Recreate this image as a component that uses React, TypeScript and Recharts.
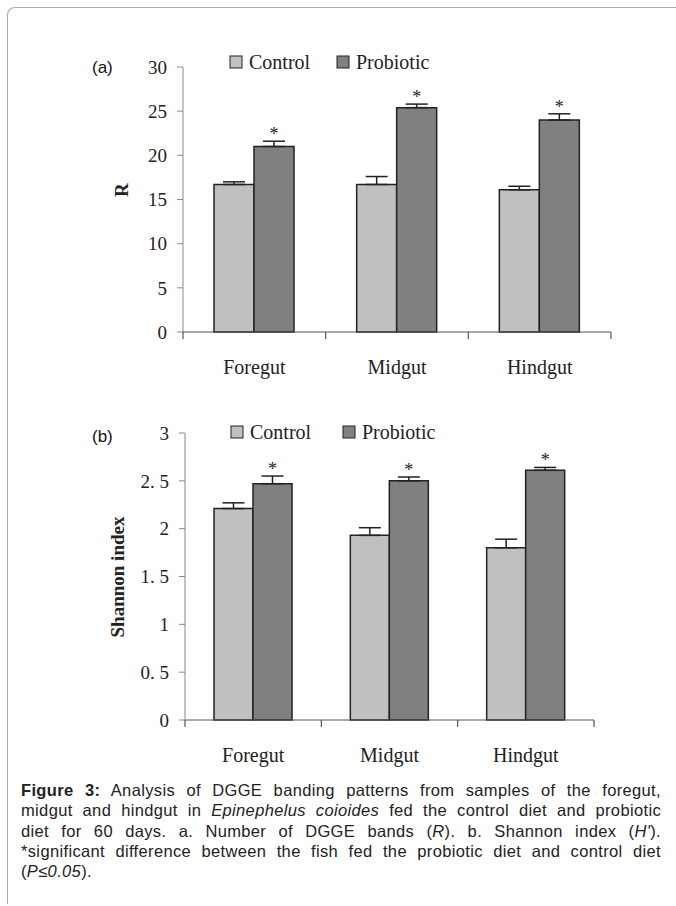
import { BarChart, Bar, XAxis, YAxis, ErrorBar, LabelList } from 'recharts';

const categories = ['Foregut', 'Midgut', 'Hindgut'];
const seriesNames = ['Control', 'Probiotic'];
const seriesColors = ['#C0C0C0', '#808080'];

// (a) number of DGGE bands
const bandsControl = [16.7, 16.7, 16.1];
const bandsControlErr = [0.3, 0.9, 0.4];
const bandsProbiotic = [21.0, 25.4, 24.0];
const bandsProbioticErr = [0.6, 0.4, 0.7];
const bandsTicks = [0, 5, 10, 15, 20, 25, 30];

// (b) Shannon index
const shannonControl = [2.21, 1.93, 1.8];
const shannonControlErr = [0.06, 0.08, 0.09];
const shannonProbiotic = [2.47, 2.5, 2.61];
const shannonProbioticErr = [0.08, 0.04, 0.03];
const shannonTicks = [0, 0.5, 1, 1.5, 2, 2.5, 3];
const shannonTickLabels = ['0', '0. 5', '1', '1. 5', '2', '2. 5', '3'];

const significant = [true, true, true];

const SERIF = '"Liberation Serif", "Times New Roman", serif';
const SANS = '"Liberation Sans", Arial, sans-serif';

const buildRows = (ctrl: number[], ctrlErr: number[], pro: number[], proErr: number[]) =>
  categories.map((name, i) => ({
    name,
    control: ctrl[i],
    controlErr: [0, ctrlErr[i]],
    probiotic: pro[i],
    probioticErr: [0, proErr[i]],
  }));

const bandsRows = buildRows(bandsControl, bandsControlErr, bandsProbiotic, bandsProbioticErr);
const shannonRows = buildRows(shannonControl, shannonControlErr, shannonProbiotic, shannonProbioticErr);

// category ticks sit on the boundaries between groups, label in the middle
const makeCategoryTick = (band: number) => (props: any) => {
  const { x, y, payload, index } = props;
  return (
    <g>
      <line x1={x - band / 2} y1={y} x2={x - band / 2} y2={y + 7} stroke="#555" strokeWidth={1.2} />
      {index === categories.length - 1 && (
        <line x1={x + band / 2} y1={y} x2={x + band / 2} y2={y + 7} stroke="#555" strokeWidth={1.2} />
      )}
      <text x={x} y={y + 35} textAnchor="middle" dominantBaseline="central" fontFamily={SERIF} fontSize={20} fill="#222">
        {payload.value}
      </text>
    </g>
  );
};

const makeStar = (errs: number[]) => (props: any) => {
  const { x, y, width, height, value, index } = props;
  if (!significant[index] || !value) return null;
  const errPx = (errs[index] * height) / value;
  return (
    <text x={x + width / 2} y={y - errPx - 1} textAnchor="middle" fontFamily={SERIF} fontSize={18} fill="#222">
      *
    </text>
  );
};

const LegendItems = ({ y, xs }: { y: number; xs: number[] }) => (
  <g>
    {seriesNames.map((n, i) => (
      <g key={n}>
        <rect x={xs[i]} y={y - 6} width={12} height={12} fill={seriesColors[i]} stroke="#222" strokeWidth={1} />
        <text x={xs[i] + 19} y={y} dominantBaseline="central" fontFamily={SERIF} fontSize={20} fill="#222">
          {n}
        </text>
      </g>
    ))}
  </g>
);

const barStyle = { stroke: '#222', strokeWidth: 1.5 };
const lineStyle = { textAlign: 'justify' as const, textAlignLast: 'justify' as const, whiteSpace: 'nowrap' as const };

export default function App() {
  return (
    <div style={{ position: 'absolute', left: 0, top: 0, width: 676, height: 906, background: '#fff', overflow: 'hidden' }}>
      <div
        style={{
          position: 'absolute',
          left: 7,
          top: 7,
          width: 700,
          height: 896,
          borderLeft: '1px solid #aaa',
          borderTop: '1px solid #aaa',
          borderTopLeftRadius: 8,
        }}
      />

      {/* (a) */}
      <div style={{ position: 'absolute', left: 0, top: 0 }}>
        <BarChart width={676} height={385} data={bandsRows} margin={{ top: 67, right: 65, bottom: 8, left: 123 }} barGap={0} barSize={40}>
          <XAxis
            dataKey="name"
            height={45}
            stroke="#555"
            tickLine={false}
            tickSize={0}
            tickMargin={0}
            interval={0}
            tick={makeCategoryTick(428 / 3)}
          />
          <YAxis
            type="number"
            width={60}
            domain={[0, 30]}
            ticks={bandsTicks}
            interval={0}
            stroke="#888"
            tickSize={6}
            tickMargin={10}
            tick={{ fontFamily: SERIF, fontSize: 19, fill: '#222' }}
          />
          <Bar dataKey="control" name={seriesNames[0]} fill={seriesColors[0]} {...barStyle} isAnimationActive={false}>
            <ErrorBar dataKey="controlErr" direction="y" width={11} stroke="#222" strokeWidth={1.5} />
          </Bar>
          <Bar dataKey="probiotic" name={seriesNames[1]} fill={seriesColors[1]} {...barStyle} isAnimationActive={false}>
            <ErrorBar dataKey="probioticErr" direction="y" width={11} stroke="#222" strokeWidth={1.5} />
            <LabelList dataKey="probiotic" content={makeStar(bandsProbioticErr)} />
          </Bar>
          <LegendItems y={62} xs={[230, 337]} />
          <text x={92} y={67} dominantBaseline="central" fontFamily={SANS} fontSize={17} fill="#111">
            (a)
          </text>
          <text
            x={121}
            y={190}
            transform="rotate(-90 121 190)"
            textAnchor="middle"
            dominantBaseline="central"
            fontFamily={SERIF}
            fontWeight="bold"
            fontSize={19}
            fill="#222"
          >
            R
          </text>
        </BarChart>
      </div>

      {/* (b) */}
      <div style={{ position: 'absolute', left: 0, top: 400 }}>
        <BarChart width={676} height={370} data={shannonRows} margin={{ top: 33, right: 82, bottom: 5, left: 125 }} barGap={0} barSize={39}>
          <XAxis
            dataKey="name"
            height={45}
            stroke="#555"
            tickLine={false}
            tickSize={0}
            tickMargin={0}
            interval={0}
            tick={makeCategoryTick(409 / 3)}
          />
          <YAxis
            type="number"
            width={60}
            domain={[0, 3]}
            ticks={shannonTicks}
            interval={0}
            stroke="#888"
            tickSize={6}
            tickMargin={10}
            tickFormatter={(v: number) => shannonTickLabels[shannonTicks.indexOf(v)]}
            tick={{ fontFamily: SERIF, fontSize: 19, fill: '#222' }}
          />
          <Bar dataKey="control" name={seriesNames[0]} fill={seriesColors[0]} {...barStyle} isAnimationActive={false}>
            <ErrorBar dataKey="controlErr" direction="y" width={11} stroke="#222" strokeWidth={1.5} />
          </Bar>
          <Bar dataKey="probiotic" name={seriesNames[1]} fill={seriesColors[1]} {...barStyle} isAnimationActive={false}>
            <ErrorBar dataKey="probioticErr" direction="y" width={11} stroke="#222" strokeWidth={1.5} />
            <LabelList dataKey="probiotic" content={makeStar(shannonProbioticErr)} />
          </Bar>
          <LegendItems y={32} xs={[231, 343]} />
          <text x={92} y={36} dominantBaseline="central" fontFamily={SANS} fontSize={17} fill="#111">
            (b)
          </text>
          <text
            x={117}
            y={177}
            transform="rotate(-90 117 177)"
            textAnchor="middle"
            dominantBaseline="central"
            fontFamily={SERIF}
            fontWeight="bold"
            fontSize={19}
            fill="#222"
          >
            Shannon index
          </text>
        </BarChart>
      </div>

      {/* caption */}
      <div
        style={{
          position: 'absolute',
          left: 21,
          top: 780,
          width: 640,
          fontFamily: SANS,
          fontSize: 16.5,
          letterSpacing: 0.35,
          lineHeight: '20.3px',
          color: '#222',
        }}
      >
        <div style={lineStyle}>
          <b>Figure 3:</b> Analysis of DGGE banding patterns from samples of the foregut,
        </div>
        <div style={lineStyle}>
          midgut and hindgut in <i>Epinephelus coioides</i> fed the control diet and probiotic
        </div>
        <div style={lineStyle}>
          diet for 60 days. a. Number of DGGE bands (<i>R</i>). b. Shannon index (<i>H'</i>).
        </div>
        <div style={lineStyle}>
          *significant difference between the fish fed the probiotic diet and control diet
        </div>
        <div>
          (<i>P≤0.05</i>).
        </div>
      </div>
    </div>
  );
}
